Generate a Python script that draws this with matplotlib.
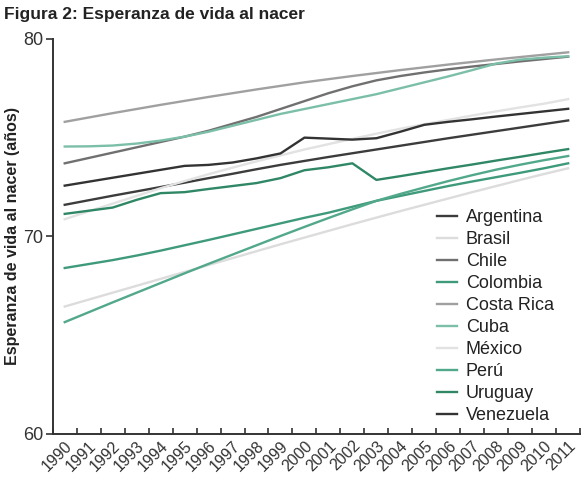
import numpy as np
import matplotlib
matplotlib.use("Agg")
import matplotlib.pyplot as plt

plt.rcParams["font.family"] = ["Liberation Sans", "DejaVu Sans"]

years = [str(y) for y in range(1990, 2012)]

argentina = [71.6, 71.83, 72.06, 72.28, 72.5, 72.72, 72.95, 73.17, 73.4, 73.62, 73.82,
             74.02, 74.21, 74.4, 74.59, 74.78, 74.97, 75.15, 75.33, 75.51, 75.69, 75.87]
brasil = [66.45, 66.8, 67.15, 67.5, 67.85, 68.2, 68.55, 68.9, 69.25, 69.6, 69.94,
          70.28, 70.62, 70.95, 71.28, 71.6, 71.92, 72.24, 72.55, 72.86, 73.16, 73.45]
chile = [73.7, 73.97, 74.24, 74.51, 74.78, 75.05, 75.35, 75.7, 76.05, 76.45, 76.85,
         77.25, 77.6, 77.9, 78.12, 78.3, 78.46, 78.6, 78.73, 78.86, 78.98, 79.1]
colombia = [68.4, 68.6, 68.8, 69.03, 69.28, 69.55, 69.82, 70.1, 70.38, 70.66, 70.94,
            71.2, 71.5, 71.8, 72.05, 72.3, 72.55, 72.78, 73.0, 73.22, 73.45, 73.7]
costa_rica = [75.8, 76.02, 76.24, 76.45, 76.66, 76.86, 77.06, 77.25, 77.44, 77.62, 77.8,
              77.96, 78.12, 78.27, 78.42, 78.56, 78.7, 78.83, 78.96, 79.08, 79.2, 79.32]
cuba = [74.55, 74.56, 74.6, 74.7, 74.85, 75.05, 75.3, 75.6, 75.9, 76.2, 76.45,
        76.7, 76.95, 77.2, 77.5, 77.8, 78.1, 78.42, 78.75, 78.95, 79.05, 79.12]
mexico = [70.87, 71.27, 71.66, 72.05, 72.44, 72.8, 73.15, 73.48, 73.8, 74.1, 74.4,
          74.67, 74.94, 75.2, 75.45, 75.68, 75.9, 76.12, 76.33, 76.53, 76.72, 76.95]
peru = [65.66, 66.16, 66.66, 67.15, 67.64, 68.13, 68.61, 69.08, 69.55, 70.02, 70.48,
        70.93, 71.37, 71.8, 72.15, 72.48, 72.8, 73.1, 73.38, 73.63, 73.86, 74.07]
uruguay = [71.14, 71.3, 71.46, 71.85, 72.19, 72.24, 72.4, 72.55, 72.7, 72.95, 73.35,
           73.5, 73.7, 72.86, 73.05, 73.25, 73.45, 73.64, 73.84, 74.03, 74.23, 74.42]
venezuela = [72.57, 72.77, 72.97, 73.17, 73.37, 73.57, 73.62, 73.74, 73.95, 74.2, 75.0,
             74.95, 74.9, 74.97, 75.3, 75.65, 75.8, 75.93, 76.07, 76.2, 76.33, 76.46]

names = ["Argentina", "Brasil", "Chile", "Colombia", "Costa Rica",
         "Cuba", "México", "Perú", "Uruguay", "Venezuela"]
series = [argentina, brasil, chile, colombia, costa_rica,
          cuba, mexico, peru, uruguay, venezuela]
colors = ["#3c3c3c", "#dcdcdc", "#707070", "#3f9a7c", "#a0a0a0",
          "#7cbfa8", "#e2e2e2", "#52a88a", "#2f8766", "#333333"]

fig = plt.figure(figsize=(5.86, 4.8), dpi=100)
ax = fig.add_axes([0.09, 0.096, 0.9, 0.823])

x = np.arange(len(years))
for vals, name, c in zip(series, names, colors):
    ax.plot(x, vals, color=c, lw=1.7, label=name)

ax.set_xlim(-0.5, len(years) - 0.5)
ax.set_ylim(60, 80)
ax.set_yticks([60, 70, 80])
ax.tick_params(axis="y", direction="out", length=5, width=1.2, colors="#333333",
               labelsize=13, pad=2)

# boundary ticks pointing in, labels centred on categories
ax.set_xticks(np.arange(-0.5, len(years)), labels=[])
ax.tick_params(axis="x", which="major", direction="in", length=4, width=1.2, colors="#333333")
ax.set_xticks(x, labels=years, minor=True)
ax.tick_params(axis="x", which="minor", length=0, labelsize=11.5, labelcolor="#333333", pad=3)
for lbl in ax.get_xticklabels(minor=True):
    lbl.set_rotation(45)
    lbl.set_ha("right")
    lbl.set_rotation_mode("anchor")

for s in ["top", "right"]:
    ax.spines[s].set_visible(False)
for s in ["left", "bottom"]:
    ax.spines[s].set_color("#333333")
    ax.spines[s].set_linewidth(1.4)

ax.set_ylabel("Esperanza de vida al nacer (años)", fontsize=11.5, fontweight="bold",
              color="#222222", labelpad=2)

fig.text(0.006, 0.97, "Figura 2: Esperanza de vida al nacer", fontsize=12.5,
         fontweight="bold", color="#222222", ha="left", va="center")

ax.legend(loc="upper left", bbox_to_anchor=(0.715, 0.588), frameon=False,
          fontsize=13, handlelength=1.1, handletextpad=0.5, labelspacing=0.28,
          labelcolor="#222222", borderaxespad=0)

fig.savefig("out.png", dpi=100)
